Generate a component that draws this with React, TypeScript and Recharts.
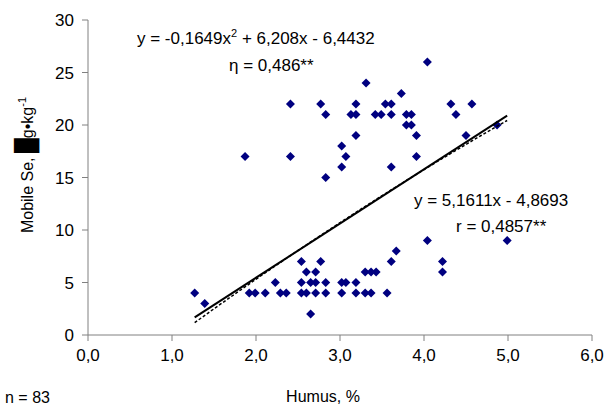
import { ScatterChart, Scatter, XAxis, YAxis } from 'recharts';

// Humus content (%) vs. mobile Se for the visible samples
const humus = [
  1.27, 1.39, 1.92, 1.99, 2.11, 2.23, 2.29, 2.36, 2.54, 2.6, 2.71, 2.77, 2.54, 2.65, 2.71, 2.83,
  2.54, 2.6, 2.71, 2.83, 2.65, 3.02, 3.07, 3.19, 3.02, 3.19, 3.3, 3.37, 3.43, 3.3, 3.37, 3.56,
  3.61, 3.67, 4.04, 4.22, 4.22, 4.99,
  3.31, 2.41, 2.77, 3.19, 2.83, 3.13, 3.19, 3.19, 3.02, 3.07, 3.02, 2.83, 1.87, 2.41, 4.04, 3.73,
  3.54, 3.61, 4.32, 4.57, 3.42, 3.49, 3.61, 3.79, 3.85, 4.38, 3.79, 3.85, 3.91, 4.5, 3.91, 3.61,
  4.87,
];
const mobileSe = [
  4, 3, 4, 4, 4, 5, 4, 4, 7, 6, 6, 7, 5, 5, 5, 5,
  4, 4, 4, 4, 2, 5, 5, 5, 4, 4, 6, 6, 6, 4, 4, 4,
  7, 8, 9, 7, 6, 9,
  24, 22, 22, 22, 21, 21, 21, 19, 18, 17, 16, 15, 17, 17, 26, 23,
  22, 22, 22, 22, 21, 21, 21, 21, 21, 21, 20, 20, 19, 19, 17, 16,
  20,
];

const xTicks = [0, 1, 2, 3, 4, 5, 6];
const yTicks = [0, 5, 10, 15, 20, 25, 30];

// trendline equations printed on the chart
const linearCoef = [5.1611, -4.8693]; // a*x + b
const polyCoef = [-0.1649, 6.208, -6.4432]; // a*x^2 + b*x + c

const points = humus.map((x, i) => ({ x, y: mobileSe[i] }));
const xMin = Math.min(...humus);
const xMax = Math.max(...humus);

const linearLine = [xMin, xMax].map((x) => ({ x, y: linearCoef[0] * x + linearCoef[1] }));
const polyLine = Array.from({ length: 25 }, (_, i) => {
  const x = xMin + ((xMax - xMin) * i) / 24;
  return { x, y: polyCoef[0] * x * x + polyCoef[1] * x + polyCoef[2] };
});

const FONT = '"Liberation Sans", Arial, sans-serif';
const AXIS = '#808080';

const Diamond = (props: any) => {
  const { cx, cy } = props;
  if (cx == null || cy == null) return <g />;
  const r = 4.5;
  return <polygon points={`${cx},${cy - r} ${cx + r},${cy} ${cx},${cy + r} ${cx - r},${cy}`} fill="#000080" />;
};

const NoDot = () => <g />;

const fmtX = (v: number) => v.toFixed(1).replace('.', ',');

export default function App() {
  return (
    <div style={{ position: 'absolute', left: 0, top: 0, width: 610, height: 410, background: '#fff', fontFamily: FONT }}>
      <ScatterChart width={610} height={410} margin={{ top: 20, right: 18, bottom: 45, left: 28 }}>
        <XAxis
          type="number"
          dataKey="x"
          domain={[0, 6]}
          ticks={xTicks}
          tickFormatter={fmtX}
          stroke={AXIS}
          tickSize={6}
          tickMargin={8}
          height={30}
          tick={{ fill: '#000', fontSize: 17, fontFamily: FONT }}
          allowDataOverflow
        />
        <YAxis
          type="number"
          dataKey="y"
          domain={[0, 30]}
          ticks={yTicks}
          stroke={AXIS}
          tickSize={6}
          tickMargin={8}
          width={60}
          tick={{ fill: '#000', fontSize: 17, fontFamily: FONT }}
          allowDataOverflow
        />
        <Scatter data={points} shape={Diamond} isAnimationActive={false} />
        <Scatter
          data={polyLine}
          shape={NoDot}
          line={{ stroke: '#000', strokeWidth: 1.5, strokeDasharray: '3 2' }}
          lineType="joint"
          isAnimationActive={false}
        />
        <Scatter
          data={linearLine}
          shape={NoDot}
          line={{ stroke: '#000', strokeWidth: 2 }}
          lineType="joint"
          isAnimationActive={false}
        />
      </ScatterChart>
      <svg width={610} height={410} style={{ position: 'absolute', left: 0, top: 0, pointerEvents: 'none' }}>
        <g fontFamily={FONT} fontSize={17} fill="#000">
          <text x={137} y={44}>
            y = -0,1649x<tspan fontSize={11} dy={-7}>2</tspan>
            <tspan dy={7}> + 6,208x - 6,4432</tspan>
          </text>
          <text x={229} y={71}>η = 0,486**</text>
          <text x={414} y={206}>y = 5,1611x - 4,8693</text>
          <text x={456} y={232}>r = 0,4857**</text>
          <text x={5} y={403} fontSize={16}>n = 83</text>
          <text x={323} y={402} fontSize={16} textAnchor="middle">Humus, %</text>
          <text x={33} y={165} fontSize={16} textAnchor="middle" transform="rotate(-90 33 165)">
            Mobile Se, <tspan fontSize={21}>█</tspan>g•kg<tspan fontSize={11} dy={-7}>-1</tspan>
          </text>
        </g>
      </svg>
    </div>
  );
}
